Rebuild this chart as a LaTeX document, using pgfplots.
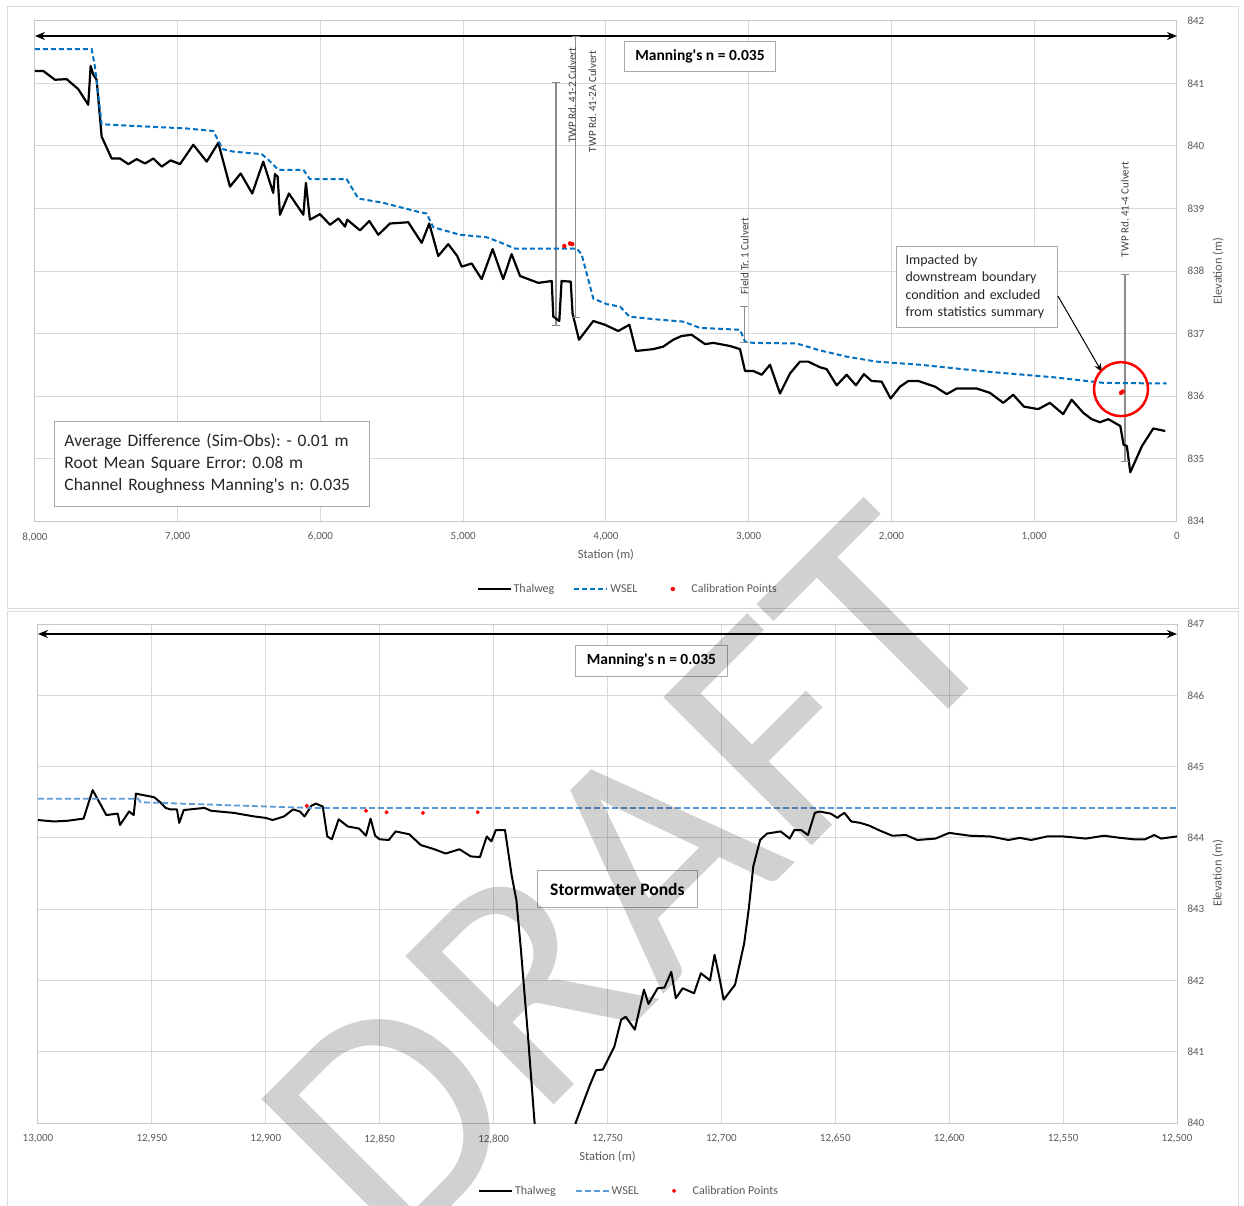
\documentclass[border=0pt]{standalone}
\usepackage{fontspec}
\setmainfont{Carlito}
\usepackage{pgfplots}
\pgfplotsset{compat=1.18}
\usetikzlibrary{arrows.meta}
\definecolor{tickgray}{RGB}{89,89,89}
\definecolor{gridgray}{RGB}{217,217,217}
\definecolor{axgray}{RGB}{200,200,200}
\definecolor{wselblue}{RGB}{0,112,192}
\definecolor{wselblue2}{RGB}{91,155,213}
\definecolor{culvgray}{RGB}{140,140,140}
\definecolor{boxgray}{RGB}{170,170,170}
\definecolor{labgray}{RGB}{64,64,64}
\frenchspacing

\tikzset{
  culvlabel/.style={rotate=90, anchor=west, font=\fontsize{11}{13}\selectfont, text=labgray, inner sep=0pt},
}
\pgfplotsset{
  panel/.style={
    scale only axis,
    x dir=reverse,
    axis line style={draw=axgray, line width=1pt},
    grid=major,
    grid style={draw=gridgray, line width=1pt},
    major tick length=0pt,
    tick label style={font=\fontsize{11}{13}\selectfont, text=tickgray},
    xticklabel style={yshift=-8pt},
    yticklabel pos=right,
    yticklabel style={xshift=7pt, anchor=west},
    scaled x ticks=false,
    /pgf/number format/fixed,
    /pgf/number format/1000 sep={,},
    /pgf/number format/assume math mode=true,
    every axis x label/.style={at={(axis description cs:0.5,-0.068)}, anchor=center, font=\fontsize{12.5}{15}\selectfont, text=tickgray},
    every axis y label/.style={at={(axis description cs:1.036,0.5)}, rotate=90, anchor=center, font=\fontsize{12.5}{15}\selectfont, text=tickgray},
    xlabel={Station (m)},
    ylabel={Elevation (m)},
    legend columns=3,
    legend style={at={(0.519,-0.136)}, anchor=center, draw=none, fill=none,
      font=\fontsize{12}{14}\selectfont, text=tickgray,
      /tikz/every even column/.append style={column sep=17pt}},
    legend image code/.code={\draw[#1] (0pt,0pt) -- (33pt,0pt);},
  },
  calib/.style={only marks, mark=*, mark size=2pt, color=red,
    legend image code/.code={\path[draw=none, fill=none] (0pt,-1pt) rectangle (33pt,1pt);\draw[#1] plot coordinates {(16.5pt,0pt)};}},
  culv/.style={draw=culvgray, line width=1.3pt, mark=-, mark size=4pt, mark options={solid, line width=1pt, draw=culvgray}, forget plot},
}

\pgfplotstableread{
x y
8000 841.20
7942 841.20
7860 841.06
7778 841.07
7697 840.91
7627 840.66
7610 841.28
7591 841.14
7568 841.06
7533 840.15
7463 839.80
7405 839.80
7346 839.71
7288 839.79
7229 839.72
7171 839.80
7112 839.67
7050 839.77
6984 839.71
6891 840.02
6797 839.75
6716 840.05
6634 839.35
6559 839.56
6478 839.24
6401 839.75
6331 839.25
6319 839.55
6300 839.51
6284 838.90
6221 839.24
6120 838.90
6102 839.41
6074 838.82
6004 838.91
5933 838.74
5875 838.84
5828 838.71
5812 838.82
5723 838.65
5658 838.80
5595 838.58
5513 838.76
5385 838.78
5291 838.45
5238 838.76
5175 838.24
5105 838.43
5042 838.24
5011 838.07
4941 838.12
4871 837.87
4794 838.35
4720 837.87
4661 838.27
4602 837.92
4474 837.81
4380 837.84
4369 837.27
4327 837.20
4311 837.84
4247 837.83
4234 837.32
4189 836.90
4089 837.20
4007 837.14
3914 837.04
3836 837.14
3790 836.72
3669 836.75
3599 836.79
3529 836.90
3470 836.96
3400 836.98
3306 836.83
3248 836.85
3131 836.80
3061 836.75
3026 836.40
2968 836.40
2909 836.34
2851 836.50
2781 836.04
2711 836.36
2641 836.55
2583 836.55
2501 836.46
2454 836.43
2384 836.17
2314 836.34
2249 836.17
2193 836.35
2139 836.24
2069 836.23
2006 835.96
1940 836.15
1882 836.24
1812 836.24
1695 836.15
1613 836.03
1543 836.12
1403 836.12
1310 836.05
1217 835.89
1147 836.02
1072 835.83
972 835.79
890 835.89
797 835.71
738 835.94
656 835.73
598 835.63
540 835.58
481 835.63
397 835.52
374 835.22
351 835.20
327 834.78
245 835.20
166 835.48
82 835.44
}\topthal

\pgfplotstableread{
x y
8000 841.55
7603 841.55
7580 841.27
7533 840.35
7475 840.34
6937 840.28
6751 840.24
6685 839.95
6611 839.91
6412 839.87
6366 839.78
6296 839.62
6120 839.62
6074 839.47
5817 839.47
5735 839.16
5560 839.09
5303 838.94
5256 838.92
5210 838.70
5023 838.58
4836 838.54
4743 838.46
4638 838.36
4206 838.36
4171 838.27
4089 837.56
3995 837.47
3901 837.43
3836 837.27
3669 837.23
3458 837.19
3342 837.09
3061 837.06
3026 836.87
2968 836.85
2664 836.84
2501 836.73
2314 836.63
2104 836.55
1800 836.50
1333 836.39
866 836.30
515 836.21
72 836.20
}\topwsel

\pgfplotstableread{
x y
4292 838.40
4252 838.44
4236 838.43
392 836.05
381 836.07
}\topcal

\pgfplotstableread{
x y
13000 844.25
12993 844.23
12987 844.24
12980 844.27
12976 844.67
12970 844.32
12965 844.34
12964 844.18
12960 844.37
12958 844.32
12957 844.62
12949 844.57
12946 844.49
12944 844.42
12942 844.40
12939 844.40
12938 844.21
12936 844.39
12927 844.42
12924 844.38
12914 844.35
12905 844.30
12900 844.28
12897 844.25
12892 844.30
12888 844.40
12885 844.37
12883 844.30
12880 844.45
12878 844.48
12875 844.44
12873 844.02
12871 843.98
12868 844.26
12864 844.16
12859 844.13
12856 844.03
12854 844.27
12852 844.03
12850 843.98
12846 843.97
12843 844.09
12840 844.07
12837 844.05
12832 843.90
12826 843.84
12821 843.78
12815 843.84
12810 843.74
12806 843.73
12803 844.02
12801 843.95
12799 844.11
12795 844.11
12792 843.46
12790 843.13
12788 842.43
12785 841.26
12782 840.00
12778 839.00
12768 839.00
12764 840.00
12758 840.51
12755 840.74
12752 840.75
12747 841.07
12744 841.45
12742 841.49
12738 841.31
12734 841.87
12732 841.67
12728 841.89
12725 841.90
12722 842.12
12720 841.75
12717 841.89
12712 841.82
12709 842.10
12705 842.00
12703 842.36
12701 842.06
12699 841.73
12694 841.94
12690 842.52
12688 843.00
12686 843.60
12683 843.97
12680 844.06
12674 844.09
12670 843.99
12668 844.11
12665 844.11
12662 844.04
12659 844.35
12657 844.37
12652 844.34
12649 844.28
12648 844.31
12646 844.35
12643 844.23
12639 844.21
12635 844.17
12631 844.11
12625 844.03
12619 844.04
12614 843.97
12606 843.99
12600 844.07
12591 844.03
12582 844.02
12574 843.97
12569 844.00
12564 843.97
12557 844.02
12550 844.02
12540 843.99
12532 844.03
12525 844.00
12519 843.98
12514 843.98
12510 844.04
12507 843.99
12500 844.02
}\botthal

\pgfplotstableread{
x y
13000 844.55
12956 844.55
12955 844.50
12900 844.44
12880 844.42
12500 844.42
}\botwsel

\pgfplotstableread{
x y
12882 844.45
12856 844.38
12847 844.36
12831 844.35
12807 844.36
}\botcal

\begin{document}
\begin{tikzpicture}
\useasboundingbox (0pt,0pt) rectangle (1244pt,-1206pt);
\draw[gridgray, line width=1pt] (7pt,-7pt) rectangle (1238pt,-608pt);
\draw[gridgray, line width=1pt] (7pt,-611pt) rectangle (1238pt,-1215pt);

% ---------- top panel ----------
\begin{axis}[panel,
  at={(35pt,-21pt)}, anchor=north west,
  width=1142pt, height=500pt,
  xmin=0, xmax=8000, ymin=834, ymax=842,
  xtick={0,1000,...,8000}, ytick={834,835,...,842},
]
\addplot[culv] coordinates {(4350,837.13) (4350,841.01)};
\addplot[culv] coordinates {(4212,837.25) (4212,841.75)};
\addplot[culv] coordinates {(3031,836.85) (3031,837.44)};
\addplot[culv] coordinates {(364,834.95) (364,837.94)};
\addplot[black, line width=2.2pt, line join=round] table {\topthal};
\addlegendentry{Thalweg}
\addplot[wselblue, line width=2pt, dash pattern=on 5pt off 3pt] table {\topwsel};
\addlegendentry{WSEL}
\addplot[calib] table {\topcal};
\addlegendentry{Calibration Points}

\node[culvlabel] at (axis cs:4238,840.05) {TWP Rd. 41-2 Culvert};
\node[culvlabel] at (axis cs:4095,839.90) {TWP Rd. 41-2A Culvert};
\node[culvlabel] at (axis cs:3029,837.62) {Field Tr. 1 Culvert};
\node[culvlabel] at (axis cs:366,838.22) {TWP Rd. 41-4 Culvert};

\draw[{Stealth[length=10pt,width=8pt]}-{Stealth[length=10pt,width=8pt]}, line width=1.6pt] (axis cs:8000,841.76) -- (axis cs:0,841.76);

\node[draw=boxgray, line width=1pt, fill=white, anchor=north west, minimum width=151pt, minimum height=30pt, inner sep=0pt, font=\fontsize{15.5}{18}\selectfont\bfseries] at (axis cs:3874,841.68) {Manning\textquotesingle s n = 0.035};

\node[draw=boxgray, line width=1pt, fill=white, anchor=north west, text width=295pt, align=left, inner xsep=10pt, inner ysep=0pt, minimum height=85pt, font=\fontsize{17.5}{22}\selectfont, text=black!85] at (axis cs:7867,835.60) {Average Difference (Sim-Obs): - 0.01 m\\Root Mean Square Error: 0.08 m\\Channel Roughness Manning\textquotesingle s n: 0.035};

\node[draw=boxgray, line width=1pt, fill=white, anchor=north west, text width=143pt, align=left, inner xsep=9pt, inner ysep=0pt, minimum height=81pt, font=\fontsize{14}{17.5}\selectfont, text=black!85] at (axis cs:1968,838.40) {Impacted by\\downstream boundary\\condition and excluded\\from statistics summary};

\draw[-{Stealth[length=9pt,width=7pt]}, line width=1pt] (axis cs:834,837.60) -- (axis cs:525,836.38);
\draw[red, line width=2.5pt] (axis cs:392,836.11) circle[radius=27pt];
\end{axis}

% ---------- bottom panel ----------
\begin{axis}[panel,
  at={(38pt,-624pt)}, anchor=north west,
  width=1139pt, height=499pt,
  xmin=12500, xmax=13000, ymin=840, ymax=847,
  xtick={12500,12550,...,13000}, ytick={840,841,...,847},
]
\addplot[black, line width=2pt, line join=round] table {\botthal};
\addlegendentry{Thalweg}
\addplot[wselblue2, line width=1.8pt, dash pattern=on 6pt off 3pt] table {\botwsel};
\addlegendentry{WSEL}
\addplot[calib, mark size=1.8pt] table {\botcal};
\addlegendentry{Calibration Points}

\draw[{Stealth[length=10pt,width=8pt]}-{Stealth[length=10pt,width=8pt]}, line width=1.6pt] (axis cs:13000,846.86) -- (axis cs:12500,846.86);

\node[draw=boxgray, line width=1pt, fill=white, anchor=north west, minimum width=152pt, minimum height=31pt, inner sep=0pt, font=\fontsize{15.5}{18}\selectfont\bfseries] at (axis cs:12764.3,846.71) {Manning\textquotesingle s n = 0.035};

\node[draw=boxgray, line width=1pt, fill=white, anchor=north west, minimum width=160pt, minimum height=37pt, inner sep=0pt, font=\fontsize{17.5}{20}\selectfont\bfseries] at (axis cs:12781,843.55) {Stormwater Ponds};
\end{axis}

% ---------- watermark ----------
\node[rotate=45, font=\fontsize{327}{327}\selectfont, text=black, text opacity=0.18, inner sep=0pt] at (631pt,-879pt) {DRAFT};
\end{tikzpicture}
\end{document}
